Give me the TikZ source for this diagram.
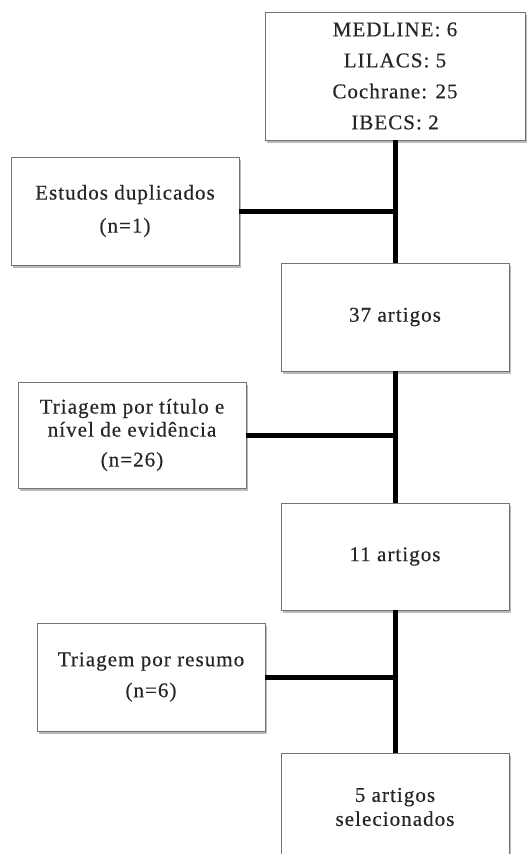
\documentclass[tikz,border=0pt]{standalone}
\usepackage{fontspec}
\setmainfont[LetterSpace=5,FakeBold=0.4]{Liberation Serif}
\usetikzlibrary{shadows}
\begin{document}
\begin{tikzpicture}[x=1pt,y=-1pt,
  box/.style={draw=black!55, line width=0.9pt, fill=white, rectangle, align=center,
    inner sep=0pt, font=\fontsize{21}{24}\selectfont, text=black!85,
    drop shadow={shadow xshift=1.5pt, shadow yshift=-2.5pt, opacity=0.45, fill=black!60}},
  link/.style={line width=5pt, black}]
\useasboundingbox (0,0) rectangle (529,854);
\clip (0,0) rectangle (529,854);
\node[box, minimum width=260pt, minimum height=128pt] (top) at (395,76)
  {MEDLINE: 6\\[7pt] LILACS: 5\\[7pt] Cochrane: 25\\[7pt] IBECS: 2};
\node[box, minimum width=228pt, minimum height=108pt] (dup) at (125,211)
  {Estudos duplicados\\[9pt] (n=1)};
\node[box, minimum width=228pt, minimum height=108pt] (a37) at (395,317)
  {37 artigos};
\node[box, minimum width=228pt, minimum height=106pt] (tit) at (132,435)
  {Triagem por título e\\[-1pt] nível de evidência\\[6pt] (n=26)};
\node[box, minimum width=228pt, minimum height=107pt] (a11) at (395,556.5)
  {11 artigos};
\node[box, minimum width=228pt, minimum height=108pt] (res) at (151,677)
  {Triagem por resumo\\[7pt] (n=6)};
\node[box, minimum width=228pt, minimum height=108pt] (a5) at (395,807)
  {\fontsize{21}{20}\selectfont 5 artigos\\ selecionados};
\draw[link] (top.south) -- (a37.north);
\draw[link] (a37.south) -- (a11.north);
\draw[link] (a11.south) -- (a5.north);
\draw[link] (dup.east) -- (dup.east -| a37.north);
\draw[link] (tit.east) -- (tit.east -| a11.north);
\draw[link] (res.east) -- (res.east -| a5.north);
\end{tikzpicture}
\end{document}
